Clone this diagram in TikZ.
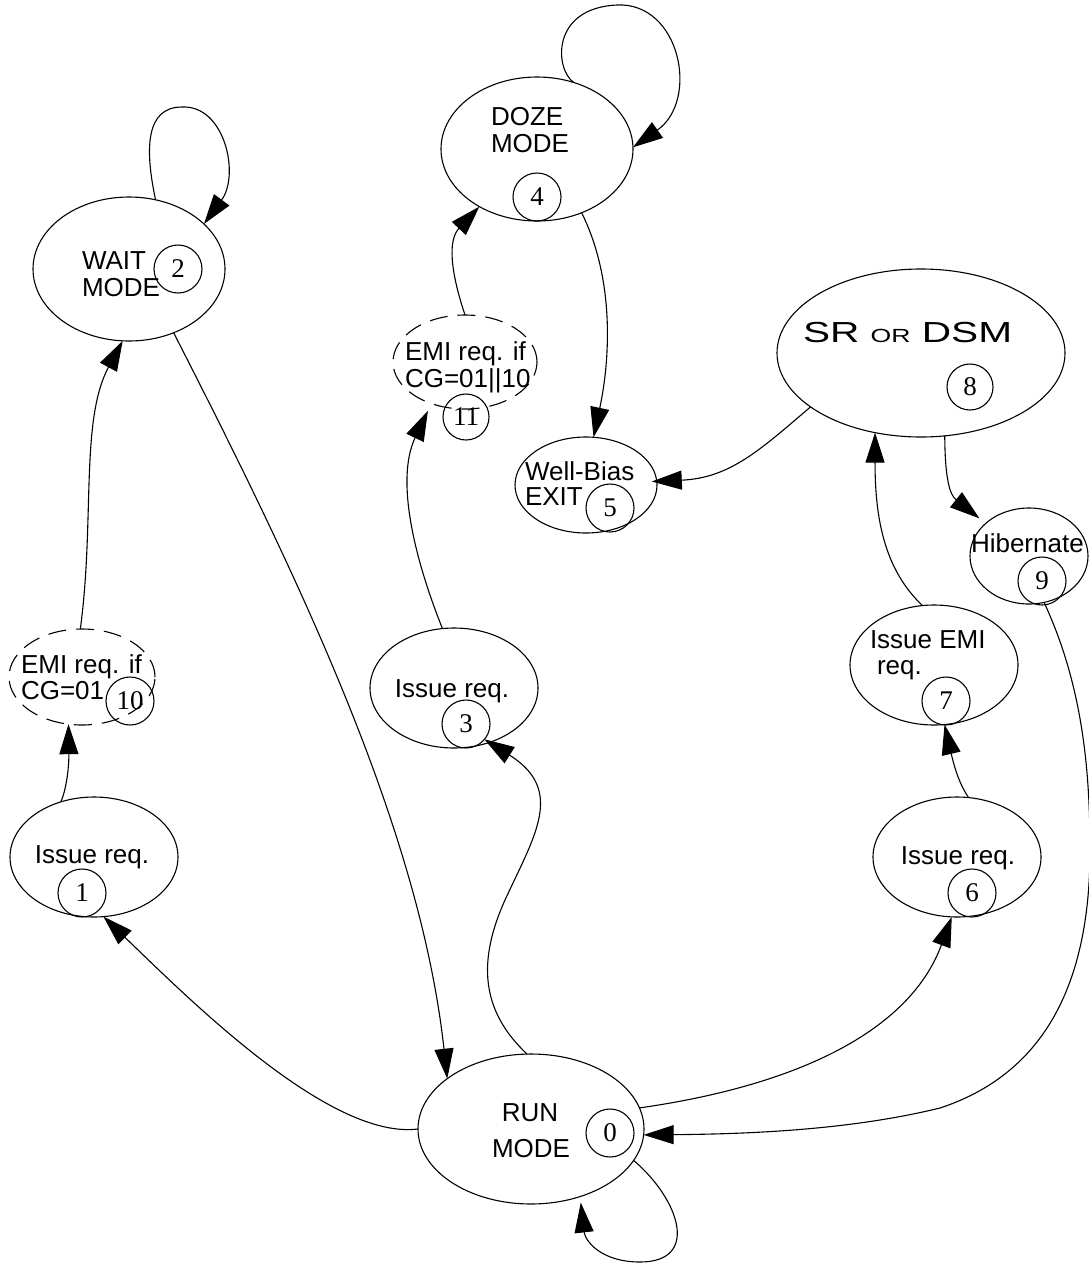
\documentclass[tikz,border=0pt]{standalone}
\usepackage{fontspec}
\usepackage{graphicx}
\setmainfont{Liberation Sans}
\newfontfamily\digfont{Liberation Serif}
\usetikzlibrary{shapes.geometric,arrows.meta}
\begin{document}
\begin{tikzpicture}[x=1pt,y=-1pt,
  st/.style={ellipse,draw,line width=1.1pt,inner sep=0pt,outer sep=0pt},
  dst/.style={st,dash pattern=on 18pt off 10pt},
  num/.style={circle,draw,line width=1.1pt,inner sep=0pt,outer sep=0pt,minimum size=48pt,font=\digfont\fontsize{27}{28}\selectfont},
  lbl/.style={inner sep=0pt,outer sep=0pt,font=\fontsize{26}{28}\selectfont},
  arr/.style={line width=1.1pt,-{Triangle[length=30pt,width=19pt]}}]
\useasboundingbox (0,0) rectangle (1089,1264);

% states
\node[st,minimum width=226pt,minimum height=150pt] (run) at (531,1129) {};
\node[st,minimum width=168pt,minimum height=120pt] (s1) at (94,857) {};
\node[st,minimum width=192pt,minimum height=144pt] (s2) at (129,269) {};
\node[st,minimum width=168pt,minimum height=120pt] (s3) at (454,688) {};
\node[st,minimum width=192pt,minimum height=144pt] (s4) at (537,149) {};
\node[st,minimum width=142pt,minimum height=96pt] (s5) at (586,485) {};
\node[st,minimum width=168pt,minimum height=120pt] (s6) at (957,857) {};
\node[st,minimum width=168pt,minimum height=120pt] (s7) at (934,665) {};
\node[st,minimum width=288pt,minimum height=168pt] (s8) at (921,353) {};
\node[st,minimum width=118pt,minimum height=96pt] (s9) at (1029,556) {};
\node[dst,minimum width=146pt,minimum height=96pt] (s10) at (82,677) {};
\node[dst,minimum width=144pt,minimum height=94pt] (s11) at (465,362) {};

% numbers
\node[num] (n0) at (610,1133) {0};
\node[num] (n1) at (82,893) {1};
\node[num] (n2) at (178,269) {2};
\node[num] (n3) at (466,724) {3};
\node[num] (n4) at (537,197) {4};
\node[num] (n5) at (610,508) {5};
\node[num] (n6) at (972,893) {6};
\node[num] (n7) at (946,701) {7};
\node[num,minimum size=46pt] (n8) at (970,387) {8};
\node[num] (n9) at (1042,581) {9};
\node[num] (n10) at (130,701) {10};
\node[num,minimum size=46pt] (n11) at (466,417) {11};

% texts
\node[lbl,anchor=base] (t0a) at (530,1121) {RUN};
\node[lbl,anchor=base] (t0b) at (531,1157) {MODE};
\node[lbl,anchor=base] (t1) at (92,863) {Issue req.};
\node[lbl,anchor=base west] (t2a) at (82,269) {WAIT};
\node[lbl,anchor=base west] (t2b) at (82,296) {MODE};
\node[lbl,anchor=base] (t3) at (452,697) {Issue req.};
\node[lbl,anchor=base west] (t4a) at (491,125) {DOZE};
\node[lbl,anchor=base west] (t4b) at (491,152) {MODE};
\node[lbl,anchor=base west] (t5a) at (525,480) {Well-Bias};
\node[lbl,anchor=base west] (t5b) at (525,505) {EXIT};
\node[lbl,anchor=base] (t6) at (958,864) {Issue req.};
\node[lbl,anchor=base west] (t7a) at (870,648) {Issue EMI};
\node[lbl,anchor=base west] (t7b) at (877,674) {req.};
\node[lbl,anchor=base west] (t8) at (803,342) {\scalebox{1.4}[1]{\fontsize{29}{30}\selectfont SR {\fontsize{19}{20}\selectfont OR} DSM}};
\node[lbl,anchor=base west] (t9) at (971,552) {Hibernate};
\node[lbl,anchor=base west] (t10a) at (21,673) {EMI req. if};
\node[lbl,anchor=base west] (t10b) at (21,699) {CG=01};
\node[lbl,anchor=base west] (t11a) at (405,360) {EMI req. if};
\node[lbl,anchor=base west] (t11b) at (405,387) {CG=01||10};

% transitions
\draw[arr] (run.180) .. controls (330,1140) and (190,1000) .. (s1.279.5);
\draw[arr] (s1.121) .. controls (68,785) and (69,760) .. (s10.254.8);
\draw[arr] (s10.92.4) .. controls (95,520) and (80,420) .. (s2.265.2);
\draw[arr] (s2.305.4) .. controls (300,580) and (420,830) .. (run.149.1);
\draw[arr] (s2.69.7) .. controls (145,150) and (145,107) .. (182,107) .. controls (225,105) and (240,175) .. (s2.31.5);
\draw[arr,shorten >=-6pt] (run.93.4) .. controls (480,1010) and (478,960) .. (505,900) .. controls (535,835) and (565,790) .. (s3.303.3);
\draw[arr,shorten >=8pt] (s3.101.5) .. controls (415,560) and (395,480) .. (s11.231.9);
\draw[arr] (s11.90) .. controls (450,270) and (448,240) .. (s4.225);
\draw[arr] (s4.61.6) .. controls (555,70) and (550,8) .. (617,5) .. controls (680,2) and (700,100) .. (s4.1.2);
\draw[arr] (s4.305.2) .. controls (615,280) and (610,360) .. (s5.81.7);
\draw[arr,shorten >=-5pt] (s8.206.8) .. controls (760,450) and (730,478) .. (s5.3);
\draw[arr,shorten >=8pt] (s8.286.6) .. controls (945,480) and (950,495) .. (s9.143.1);
\draw[arr] (s7.101.3) .. controls (885,570) and (875,520) .. (s8.240.5);
\draw[arr] (s6.79.6) .. controls (960,785) and (955,770) .. (s7.280.8);
\draw[arr] (run.11.4) .. controls (800,1085) and (910,1030) .. (s6.265.3);
\draw[arr] (s9.288.1) .. controls (1080,680) and (1090,760) .. (1090,850) .. controls (1090,990) and (1040,1075) .. (940,1108) .. controls (850,1130) and (750,1134) .. (run.357.5);
\draw[arr,shorten >=6pt] (run.343.7) .. controls (680,1200) and (700,1262) .. (640,1262) .. controls (600,1262) and (585,1240) .. (run.306.3);
\end{tikzpicture}
\end{document}
